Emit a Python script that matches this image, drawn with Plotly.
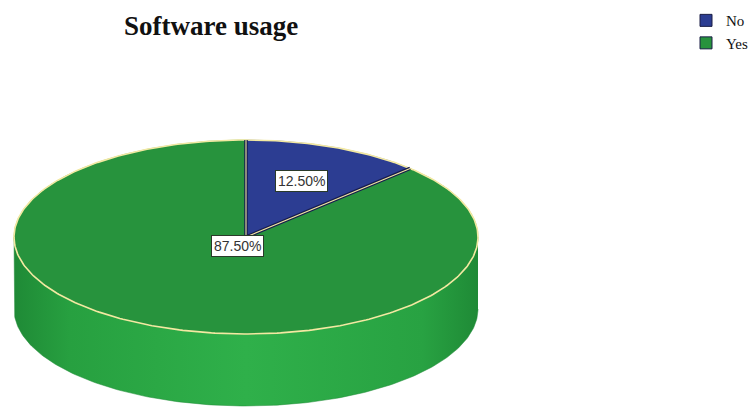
import numpy as np
import plotly.graph_objects as go

# ---- data ----
categories = ["No", "Yes"]
percent_values = [12.5, 87.5]
label_texts = ["12.50%", "87.50%"]
slice_colors = ["#2c3d92", "#27933d"]
title_text = "Software usage"

# ---- geometry (pixel-like coordinates, y downwards) ----
W, H = 753, 412
cx, cy, a, b, depth = 246, 237, 232, 97, 72

def top_pt(theta_deg):
    t = np.radians(theta_deg)
    return cx + a * np.sin(t), cy - b * np.cos(t)

fig = go.Figure()

# side wall (front half of the cylinder)
th = np.linspace(90, 270, 200)
xs_top, ys_top = top_pt(th)
xs = np.concatenate([xs_top, xs_top[::-1]])
ys = np.concatenate([ys_top, ys_top[::-1] + depth])
fig.add_trace(go.Scatter(
    x=xs, y=ys, mode="lines", fill="toself",
    line=dict(color="#1f8a37", width=0.5),
    fillgradient=dict(type="horizontal", colorscale=[
        [0.0, "#1f8a36"], [0.12, "#27a040"], [0.5, "#2fb04a"],
        [0.88, "#28a242"], [1.0, "#1f8a36"]]),
    showlegend=False, hoverinfo="skip"))

# top faces (slices), drawn from the data
total = sum(percent_values)
start = 0.0
bounds = []
for name, val, col in zip(categories, percent_values, slice_colors):
    sweep = val / total * 360.0
    th = np.linspace(start, start + sweep, max(int(sweep * 2), 8))
    px, py = top_pt(th)
    px = np.concatenate([[cx], px, [cx]])
    py = np.concatenate([[cy], py, [cy]])
    fig.add_trace(go.Scatter(
        x=px, y=py, mode="lines", fill="toself", fillcolor=col,
        line=dict(color=col, width=0.5), name=name,
        showlegend=False, hoverinfo="skip"))
    bounds.append((start, start + sweep))
    start += sweep

# outer rim
th = np.linspace(0, 360, 400)
rx, ry = top_pt(th)
fig.add_trace(go.Scatter(x=rx, y=ry, mode="lines",
                         line=dict(color="#f3e9a2", width=1.6),
                         showlegend=False, hoverinfo="skip"))

# radial slice edges
for ang in [bounds[0][0], bounds[0][1]]:
    ex, ey = top_pt(ang)
    for colr, wd in [("#161a4e", 3.5), ("#f1e7a0", 1.1)]:
        fig.add_trace(go.Scatter(x=[cx, ex], y=[cy, ey], mode="lines",
                                 line=dict(color=colr, width=wd),
                                 showlegend=False, hoverinfo="skip"))

# legend entries (square swatches)
for name, col in zip(categories, slice_colors):
    fig.add_trace(go.Scatter(
        x=[None], y=[None], mode="markers", name=name,
        marker=dict(symbol="square", size=12, color=col,
                    line=dict(color="#1a1d45", width=1)),
        showlegend=True, hoverinfo="skip"))

# labels
label_frac = [0.63, 0.1]
for (s, e), txt, f in zip(bounds, label_texts, label_frac):
    mid = np.radians((s + e) / 2)
    lx = cx + f * a * np.sin(mid)
    ly = cy - f * b * np.cos(mid)
    fig.add_annotation(x=lx, y=ly, text=txt, showarrow=False,
                       font=dict(family="Liberation Sans, Arial", size=14, color="#333333"),
                       bgcolor="white", bordercolor="#2a3a2a", borderwidth=1, borderpad=2)

fig.add_annotation(x=211, y=26, text="<b>" + title_text + "</b>", showarrow=False,
                   font=dict(family="Liberation Serif, serif", size=27, color="#111111"))

fig.update_layout(
    width=W, height=H, margin=dict(l=0, r=0, t=0, b=0),
    paper_bgcolor="white", plot_bgcolor="white",
    xaxis=dict(range=[0, W], visible=False, fixedrange=True),
    yaxis=dict(range=[H, 0], visible=False, fixedrange=True),
    legend=dict(x=1.0, y=0.99, xanchor="right", yanchor="top",
                font=dict(family="Liberation Serif, serif", size=15, color="#111111"),
                bgcolor="rgba(0,0,0,0)", tracegroupgap=0, itemwidth=30,
                borderwidth=0),
    showlegend=True,
)

fig.write_html("out.html",
               config={"displayModeBar": False, "staticPlot": True},
               post_script="document.body.style.margin='0';document.body.style.overflow='hidden';")
